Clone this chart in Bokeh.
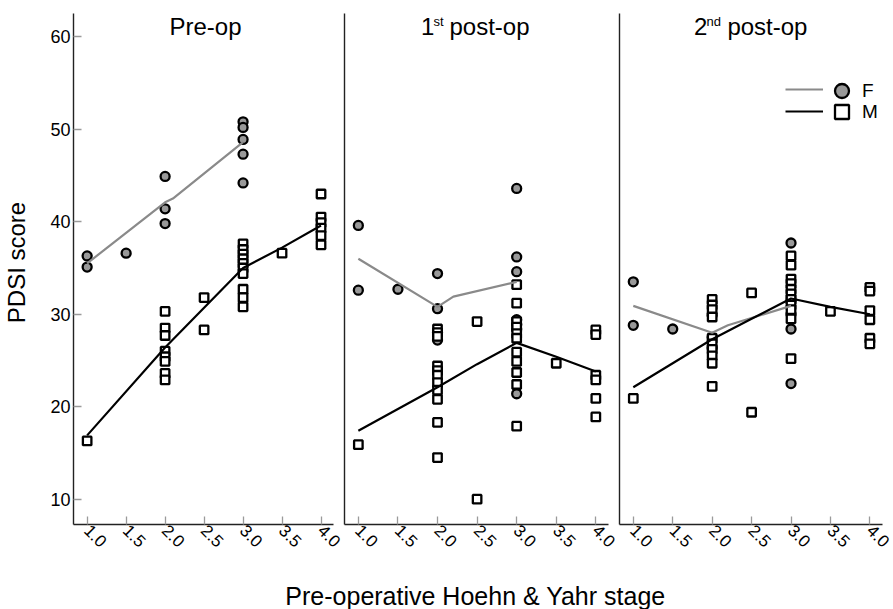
import math
from bokeh.plotting import figure
from bokeh.models import Range1d, FixedTicker, NumeralTickFormatter, Label, Legend, LegendItem
from bokeh.core.properties import value
from bokeh.layouts import row, column
from bokeh.embed import file_html
from bokeh.resources import INLINE

FONT = "Liberation Sans"

# ---------------- data ----------------
X_TICKS = [1.0, 1.5, 2.0, 2.5, 3.0, 3.5, 4.0]
Y_TICKS = [10, 20, 30, 40, 50, 60]

# Pre-op
PRE_F_X = [1.0, 1.0, 1.5, 2.0, 2.0, 2.0, 3.0, 3.0, 3.0, 3.0, 3.0]
PRE_F_Y = [36.3, 35.1, 36.6, 44.9, 41.4, 39.8, 50.8, 50.2, 48.9, 47.3, 44.2]
PRE_M_X = [1.0,
           2.0, 2.0, 2.0, 2.0, 2.0, 2.0, 2.0, 2.0,
           2.5, 2.5,
           3.0, 3.0, 3.0, 3.0, 3.0, 3.0, 3.0, 3.0, 3.0, 3.0,
           3.5,
           4.0, 4.0, 4.0, 4.0, 4.0, 4.0]
PRE_M_Y = [16.3,
           30.3, 28.5, 27.7, 26.0, 25.4, 24.9, 23.6, 22.9,
           31.8, 28.3,
           37.6, 37.0, 36.5, 36.0, 35.5, 35.0, 34.4, 32.7, 31.8, 30.8,
           36.6,
           43.0, 40.5, 39.9, 39.3, 38.5, 37.5]
PRE_FIT_F_X = [1.0, 2.0, 2.1, 3.0]
PRE_FIT_F_Y = [35.5, 42.1, 42.5, 48.6]
PRE_FIT_M_X = [1.0, 2.0, 2.5, 3.0, 3.5, 4.0]
PRE_FIT_M_Y = [16.9, 26.4, 30.7, 35.0, 37.2, 39.6]

# 1st post-op
P1_F_X = [1.0, 1.0, 1.5, 2.0, 2.0, 2.0, 2.0, 3.0, 3.0, 3.0, 3.0, 3.0, 3.0, 3.0]
P1_F_Y = [39.6, 32.6, 32.7, 34.4, 30.6, 28.0, 27.2, 43.6, 36.2, 34.6, 29.4, 28.9, 28.4, 21.4]
P1_M_X = [1.0,
          2.0, 2.0, 2.0, 2.0, 2.0, 2.0, 2.0, 2.0, 2.0, 2.0, 2.0,
          2.5, 2.5,
          3.0, 3.0, 3.0, 3.0, 3.0, 3.0, 3.0, 3.0, 3.0, 3.0, 3.0,
          3.5,
          4.0, 4.0, 4.0, 4.0, 4.0, 4.0]
P1_M_Y = [15.9,
          28.4, 28.0, 27.6, 24.4, 23.9, 23.4, 22.6, 21.8, 20.8, 18.3, 14.5,
          29.2, 10.0,
          33.2, 31.2, 29.2, 28.6, 27.9, 27.4, 25.9, 24.9, 23.7, 22.4, 17.9,
          24.7,
          28.3, 27.8, 23.4, 22.9, 20.9, 18.9]
P1_FIT_F_X = [1.0, 2.0, 2.2, 3.0]
P1_FIT_F_Y = [36.0, 30.8, 31.9, 33.5]
P1_FIT_M_X = [1.0, 2.0, 2.5, 3.0, 3.5, 4.0]
P1_FIT_M_Y = [17.4, 22.1, 24.6, 26.9, 25.4, 23.8]

# 2nd post-op
P2_F_X = [1.0, 1.0, 1.5, 2.0, 2.0, 2.0, 3.0, 3.0, 3.0, 3.0, 3.0]
P2_F_Y = [33.5, 28.8, 28.4, 29.9, 27.5, 26.3, 37.7, 31.5, 30.0, 28.4, 22.5]
P2_M_X = [1.0,
          2.0, 2.0, 2.0, 2.0, 2.0, 2.0, 2.0, 2.0, 2.0, 2.0,
          2.5, 2.5,
          3.0, 3.0, 3.0, 3.0, 3.0, 3.0, 3.0, 3.0, 3.0, 3.0, 3.0,
          3.5,
          4.0, 4.0, 4.0, 4.0, 4.0, 4.0]
P2_M_Y = [20.9,
          31.6, 31.0, 30.5, 29.7, 27.4, 26.8, 26.2, 25.5, 24.7, 22.2,
          32.3, 19.4,
          36.3, 35.3, 33.8, 33.3, 32.7, 32.2, 31.6, 31.0, 30.5, 29.5, 25.2,
          30.3,
          32.9, 32.5, 30.4, 29.4, 27.4, 26.8]
P2_FIT_F_X = [1.0, 2.0, 2.2, 3.0]
P2_FIT_F_Y = [30.9, 28.0, 28.8, 30.9]
P2_FIT_M_X = [1.0, 2.0, 2.5, 3.0, 3.5, 4.0]
P2_FIT_M_Y = [22.1, 27.3, 29.5, 31.7, 30.8, 30.0]

SERIES = ["F", "M"]
X_LABEL = "Pre-operative Hoehn & Yahr stage"
Y_LABEL = "PDSI score"

# ---------------- styles ----------------
F_FILL = "#999999"
F_LINE = "#8a8a8a"
M_LINE = "#000000"
AXIS_COLOR = "#222222"
TICK_COLOR = "#9a9a9a"
X_RANGE = (0.825, 4.16)
Y_RANGE = (7.265, 63.92)
Y_AXIS_TOP = 62.5
FIG_H = 575
LABEL_H = 34
TOTAL_W = 893


def make_panel(width, bl, br, show_y):
    p = figure(width=width, height=FIG_H,
               x_range=Range1d(*X_RANGE), y_range=Range1d(*Y_RANGE),
               output_backend="svg", toolbar_location=None,
               min_border_left=bl, min_border_right=br,
               min_border_top=0, min_border_bottom=51)
    p.xgrid.visible = False
    p.ygrid.visible = False
    p.outline_line_color = None
    p.background_fill_color = "white"
    p.border_fill_color = "white"

    xa = p.xaxis[0]
    xa.ticker = FixedTicker(ticks=X_TICKS)
    xa.formatter = NumeralTickFormatter(format="0.0")
    xa.major_label_orientation = -math.pi / 4
    xa.major_tick_in = 8
    xa.major_tick_out = 0
    xa.major_tick_line_color = TICK_COLOR
    xa.major_tick_line_width = 1.3
    xa.minor_tick_line_color = None
    xa.axis_line_color = AXIS_COLOR
    xa.axis_line_width = 1.4
    xa.major_label_text_font = FONT
    xa.major_label_text_font_size = "17px"
    xa.major_label_text_color = "#000000"
    xa.major_label_standoff = 3

    ya = p.yaxis[0]
    ya.bounds = (Y_RANGE[0], Y_AXIS_TOP)
    ya.axis_line_color = AXIS_COLOR
    ya.axis_line_width = 1.4
    ya.minor_tick_line_color = None
    if show_y:
        ya.ticker = FixedTicker(ticks=Y_TICKS)
        ya.major_tick_in = 8
        ya.major_tick_out = 0
        ya.major_tick_line_color = TICK_COLOR
        ya.major_tick_line_width = 1.3
        ya.major_label_text_font = FONT
        ya.major_label_text_font_size = "18px"
        ya.major_label_text_color = "#000000"
        ya.major_label_standoff = 3
    else:
        ya.ticker = FixedTicker(ticks=[])
        ya.major_tick_in = 0
        ya.major_tick_out = 0
        ya.major_label_standoff = 0
        ya.axis_label_standoff = 0
    return p


def draw_data(p, fx, fy, mx, my, ffx, ffy, fmx, fmy):
    rf = p.scatter(fx, fy, marker="circle", size=9, fill_color=F_FILL,
                   line_color="#000000", line_width=2.3)
    rm = p.scatter(mx, my, marker="square", size=8.5, fill_color="white",
                   line_color="#000000", line_width=2.3)
    lf = p.line(ffx, ffy, line_color=F_LINE, line_width=2.2)
    lm = p.line(fmx, fmy, line_color=M_LINE, line_width=2.2)
    return rf, rm, lf, lm


def add_title(p, parts):
    cx = (X_RANGE[0] + X_RANGE[1]) / 2
    for text, size, dx, dy in parts:
        p.add_layout(Label(x=cx, y=Y_RANGE[1], x_offset=dx, y_offset=dy, text=text,
                           text_font=FONT, text_font_size=size,
                           text_align="left", text_baseline="alphabetic",
                           text_color="#000000"))


p1 = make_panel(343, 70, 10, True)
p2 = make_panel(275, 1, 10, False)
p3 = make_panel(275, 1, 11, False)

draw_data(p1, PRE_F_X, PRE_F_Y, PRE_M_X, PRE_M_Y, PRE_FIT_F_X, PRE_FIT_F_Y, PRE_FIT_M_X, PRE_FIT_M_Y)
draw_data(p2, P1_F_X, P1_F_Y, P1_M_X, P1_M_Y, P1_FIT_F_X, P1_FIT_F_Y, P1_FIT_M_X, P1_FIT_M_Y)
rf3, rm3, lf3, lm3 = draw_data(p3, P2_F_X, P2_F_Y, P2_M_X, P2_M_Y, P2_FIT_F_X, P2_FIT_F_Y, P2_FIT_M_X, P2_FIT_M_Y)

add_title(p1, [("Pre-op", "24px", -34, -26)])
add_title(p2, [("1", "24px", -55.5, -26), ("st", "13px", -43, -20.5), ("post-op", "24px", -27, -26)])
add_title(p3, [("2", "24px", -57, -26), ("nd", "13px", -44.5, -20.5), ("post-op", "24px", -23.6, -26)])

# y axis label
ya1 = p1.yaxis[0]
ya1.axis_label = Y_LABEL
ya1.axis_label_text_font = FONT
ya1.axis_label_text_font_size = "24px"
ya1.axis_label_text_font_style = "normal"
ya1.axis_label_text_color = "#000000"
ya1.axis_label_standoff = 17


def legend(renderer, label, loc, gw, gh, **kw):
    return Legend(items=[LegendItem(label=value(label), renderers=[renderer])],
                  location=loc, orientation="vertical",
                  glyph_width=gw, glyph_height=gh, label_height=gh,
                  spacing=0, padding=0, margin=0,
                  label_text_font=FONT, label_text_font_size="19px",
                  label_text_color="#000000",
                  border_line_color=None, background_fill_alpha=0, **kw)


# legend: lines on the left, markers + labels on the right
p3.add_layout(legend(lf3, "", (166, 425), 38, 20, label_width=0, label_standoff=0), "center")
p3.add_layout(legend(lm3, "", (166, 403), 38, 20, label_width=0, label_standoff=0), "center")
p3.add_layout(legend(rf3, SERIES[0], (205, 416), 35, 35, label_standoff=3), "center")
p3.add_layout(legend(rm3, SERIES[1], (205, 395), 35, 35, label_standoff=3), "center")

# shared x-axis label strip below the three panels
px = figure(width=TOTAL_W, height=LABEL_H, x_range=Range1d(0, TOTAL_W), y_range=Range1d(0, LABEL_H),
            output_backend="svg", toolbar_location=None,
            min_border_left=0, min_border_right=0, min_border_top=0, min_border_bottom=0)
px.axis.visible = False
px.xgrid.visible = False
px.ygrid.visible = False
px.outline_line_color = None
px.background_fill_color = "white"
px.border_fill_color = "white"
px.add_layout(Label(x=475, y=14, text=X_LABEL, text_font=FONT, text_font_size="25px",
                    text_align="center", text_baseline="alphabetic", text_color="#000000"))

layout = column(row(p1, p2, p3), px)
open("out.html", "w").write(file_html(layout, INLINE))
